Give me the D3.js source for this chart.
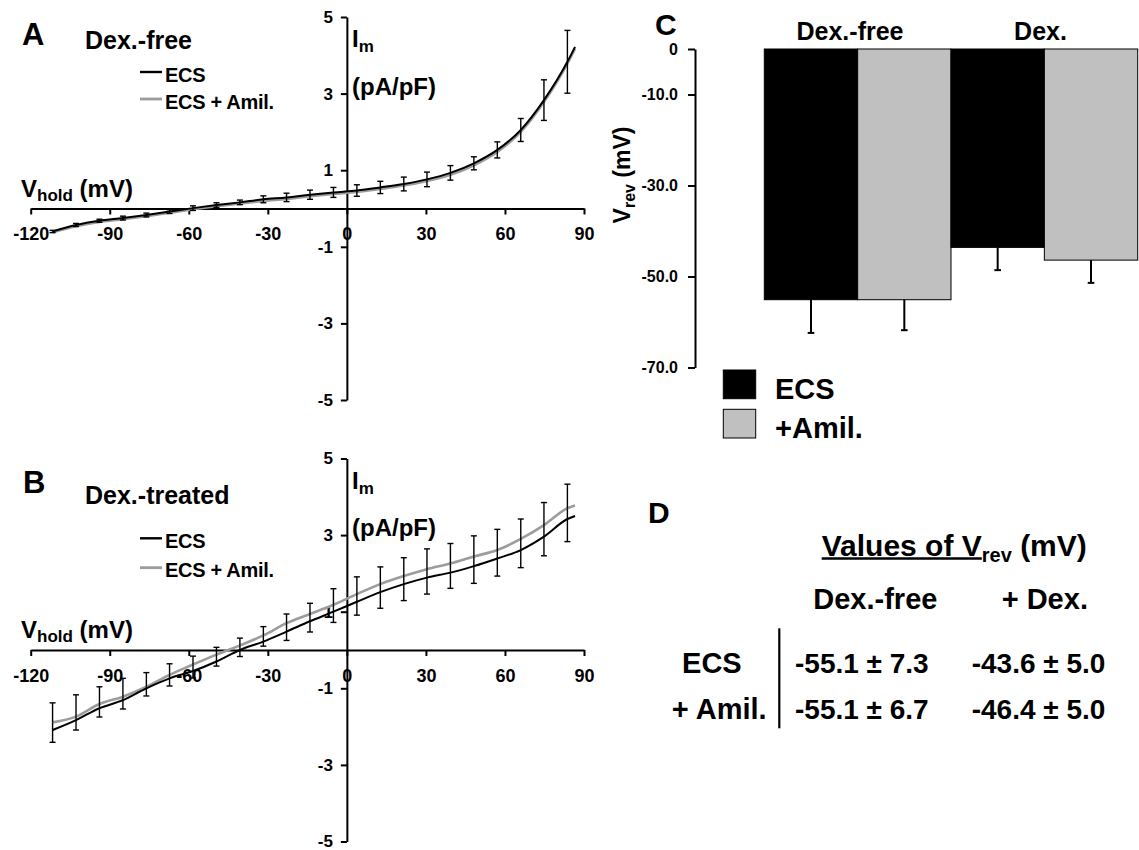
<!DOCTYPE html>
<html><head><meta charset="utf-8">
<script src="https://cdn.jsdelivr.net/npm/d3@7"></script>
<style>
body{margin:0;background:#fff}
svg{display:block}
text{font-family:"Liberation Sans",Arial,Helvetica,sans-serif;font-weight:bold;fill:#000}
</style>
</head><body>
<svg id="chart" width="1139" height="850"></svg>
<script>
// ---------- data ----------
const volts = [-111.7, -102.8, -93.9, -85.0, -76.1, -67.3, -58.4, -49.5, -40.6, -31.7, -22.9, -14.0, -5.1, 3.8, 12.7, 21.6, 30.4, 39.3, 48.2, 57.1, 66.0, 74.8, 83.7, 86.6];

// Panel A (Dex.-free)
const freeECS  = [-0.60, -0.43, -0.32, -0.25, -0.17, -0.08, 0.01, 0.09, 0.16, 0.24, 0.29, 0.36, 0.42, 0.47, 0.55, 0.64, 0.76, 0.93, 1.18, 1.53, 2.05, 2.83, 3.83, 4.22];
const freeAmil = [-0.62, -0.46, -0.35, -0.28, -0.20, -0.11, -0.02, 0.06, 0.13, 0.20, 0.25, 0.32, 0.38, 0.43, 0.51, 0.60, 0.72, 0.88, 1.13, 1.48, 2.00, 2.78, 3.78, 4.17];
const freeErr  = [0.03, 0.04, 0.04, 0.05, 0.05, 0.05, 0.06, 0.06, 0.06, 0.09, 0.11, 0.12, 0.13, 0.15, 0.16, 0.18, 0.19, 0.19, 0.17, 0.21, 0.30, 0.53, 0.82, null];

// Panel B (Dex.-treated)
const dexECS   = [-2.09, -1.83, -1.52, -1.31, -1.00, -0.74, -0.55, -0.30, 0.00, 0.22, 0.48, 0.75, 1.00, 1.26, 1.51, 1.72, 1.89, 2.02, 2.19, 2.39, 2.61, 2.96, 3.42, 3.50];
const dexAmil  = [-1.89, -1.74, -1.41, -1.22, -0.96, -0.65, -0.38, -0.12, 0.12, 0.38, 0.70, 0.94, 1.18, 1.46, 1.72, 1.93, 2.11, 2.26, 2.44, 2.61, 2.90, 3.26, 3.70, 3.77];
const dexECSErr  = [0.32, 0.26, 0.23, 0.23, 0.20, 0.20, 0.18, 0.12, 0.17, 0.12, 0.23, 0.28, 0.28, 0.35, 0.42, 0.43, 0.43, 0.41, 0.45, 0.46, 0.46, 0.50, 0.59, null];
const dexAmilErr = [0.51, 0.57, 0.45, 0.48, 0.37, 0.29, 0.22, 0.19, 0.19, 0.23, 0.24, 0.28, 0.42, 0.45, 0.45, 0.48, 0.53, 0.52, 0.54, 0.54, 0.52, 0.59, 0.63, null];

const xTicks = [-120, -90, -60, -30, 0, 30, 60, 90];
const xTickLabels = ["-120", "-90", "-60", "-30", "0", "30", "60", "90"];
const yTicks = [5, 3, 1, -1, -3, -5];
const yTickLabels = ["5", "3", "1", "-1", "-3", "-5"];

// Panel C / D (Vrev)
const groups = ["Dex.-free", "Dex."];
const seriesNames = ["ECS", "+Amil."];
const vrevMean = [[-55.1, -55.1], [-43.6, -46.4]];
const vrevErr  = [[7.3, 6.7], [5.0, 5.0]];
const cTicks = [0, -10, -30, -50, -70];
const cTickLabels = ["0", "-10.0", "-30.0", "-50.0", "-70.0"];
const tableCols = ["Dex.-free", "+ Dex."];
const tableRows = ["ECS", "+ Amil."];
const tableCells = [["-55.1 \u00b1 7.3", "-43.6 \u00b1 5.0"], ["-55.1 \u00b1 6.7", "-46.4 \u00b1 5.0"]];

// ---------- drawing ----------
const svg = d3.select("#chart");
const BLACK = "#000", GRAY = "#9c9c9c", BARGRAY = "#c0c0c0";

function styleAxis(g, fs) {
  g.attr("font-size", fs).attr("font-family", null);
  g.selectAll(".domain").attr("stroke", BLACK).attr("stroke-width", 2);
  g.selectAll(".tick line").attr("stroke", BLACK).attr("stroke-width", 2);
}

function ivPanel(cfg) {
  const x = d3.scaleLinear().domain([-120, 90]).range([30.7, 584]);
  const y = d3.scaleLinear().domain([-5, 5]).range([cfg.y0 + 191.5, cfg.y0 - 191.5]);
  const g = svg.append("g");

  const gx = g.append("g").attr("transform", `translate(0,${y(0)})`)
    .call(d3.axisBottom(x).tickValues(xTicks).tickFormat((d, i) => xTickLabels[i])
      .tickSize(6).tickSizeOuter(0).tickPadding(13.2));
  styleAxis(gx, 18);
  const gy = g.append("g").attr("transform", `translate(${x(0)},0)`)
    .call(d3.axisLeft(y).tickValues(yTicks).tickFormat((d, i) => yTickLabels[i])
      .tickSize(6).tickSizeOuter(0).tickPadding(8));
  styleAxis(gy, 17);

  const line = d3.line().x(d => x(d[0])).y(d => y(d[1])).curve(d3.curveMonotoneX);
  const ptsE = volts.map((v, i) => [v, cfg.ecs[i]]);
  const ptsA = volts.map((v, i) => [v, cfg.amil[i]]);
  g.append("path").attr("d", line(ptsA)).attr("fill", "none").attr("stroke", GRAY).attr("stroke-width", 2.6);
  g.append("path").attr("d", line(ptsE)).attr("fill", "none").attr("stroke", BLACK).attr("stroke-width", 2);

  const eb = g.append("g").attr("stroke", BLACK).attr("stroke-width", 1.4);
  function bar(v, y1, y2) {
    eb.append("line").attr("x1", x(v)).attr("x2", x(v)).attr("y1", y(y1)).attr("y2", y(y2));
    eb.append("line").attr("x1", x(v) - 3).attr("x2", x(v) + 3).attr("y1", y(y2)).attr("y2", y(y2));
  }
  volts.forEach((v, i) => {
    if (cfg.errBoth && cfg.errBoth[i] != null) {
      bar(v, cfg.ecs[i], cfg.ecs[i] + cfg.errBoth[i]);
      bar(v, cfg.ecs[i], cfg.ecs[i] - cfg.errBoth[i]);
    }
    if (cfg.errDown && cfg.errDown[i] != null) {
      bar(v, cfg.ecs[i], cfg.ecs[i] - cfg.errDown[i]);
      bar(v, cfg.amil[i], cfg.amil[i] + cfg.errUp[i]);
      eb.append("line").attr("x1", x(v)).attr("x2", x(v)).attr("y1", y(cfg.ecs[i])).attr("y2", y(cfg.amil[i]));
    }
  });

  // panel letter and title
  g.append("text").attr("x", cfg.letterX).attr("y", cfg.letterY).attr("font-size", 31).text(cfg.letter);
  g.append("text").attr("x", 85).attr("y", cfg.titleY).attr("font-size", 25).text(cfg.title);
  // legend
  [[cfg.legY1, BLACK, "ECS", 2.4], [cfg.legY2, GRAY, "ECS + Amil.", 2.8]].forEach(([ly, col, lab, w]) => {
    g.append("line").attr("x1", 140).attr("x2", 162).attr("y1", ly).attr("y2", ly).attr("stroke", col).attr("stroke-width", w);
    g.append("text").attr("x", 165).attr("y", ly + 9.5).attr("font-size", 20).attr("letter-spacing", -0.3).text(lab);
  });
  // V_hold label
  const vt = g.append("text").attr("x", 21).attr("y", cfg.y0 - 12).attr("font-size", 24);
  vt.append("tspan").text("V");
  vt.append("tspan").attr("font-size", 17).attr("dy", 4).text("hold");
  vt.append("tspan").attr("dy", -4).text(" (mV)");
  // I_m label
  const it = g.append("text").attr("x", 352).attr("y", cfg.y0 - 161.5).attr("font-size", 24);
  it.append("tspan").text("I");
  it.append("tspan").attr("font-size", 17).attr("dy", 5).text("m");
  g.append("text").attr("x", 352).attr("y", cfg.y0 - 114).attr("font-size", 24).text("(pA/pF)");
}

ivPanel({ y0: 208.5, ecs: freeECS, amil: freeAmil, errBoth: freeErr,
  letter: "A", letterX: 22, letterY: 45, title: "Dex.-free", titleY: 48.5, legY1: 72, legY2: 99 });
ivPanel({ y0: 650, ecs: dexECS, amil: dexAmil, errDown: dexECSErr, errUp: dexAmilErr,
  letter: "B", letterX: 23, letterY: 493, title: "Dex.-treated", titleY: 503.5, legY1: 538.3, legY2: 567.7 });

// ---------- Panel C ----------
(function () {
  const g = svg.append("g");
  const yC = d3.scaleLinear().domain([-70, 0]).range([367.5, 49]);
  const xG = d3.scaleBand().domain(groups).range([764.3, 1137.7]).paddingInner(0).paddingOuter(0);
  const xS = d3.scaleBand().domain(seriesNames).range([0, xG.bandwidth()]).padding(0);
  const fills = [BLACK, BARGRAY];

  const gy = g.append("g").attr("transform", "translate(695,0)")
    .call(d3.axisLeft(yC).tickValues(cTicks).tickFormat((d, i) => cTickLabels[i])
      .tickSize(7).tickSizeOuter(0).tickPadding(10));
  styleAxis(gy, 16);

  groups.forEach((grp, gi) => {
    seriesNames.forEach((s, si) => {
      const v = vrevMean[gi][si], e = vrevErr[gi][si];
      const bx = xG(grp) + xS(s), bw = xS.bandwidth();
      g.append("rect").attr("x", bx).attr("y", yC(0)).attr("width", bw).attr("height", yC(v) - yC(0))
        .attr("fill", fills[si]).attr("stroke", BLACK).attr("stroke-width", 1);
      const cx = bx + bw / 2;
      g.append("line").attr("x1", cx).attr("x2", cx).attr("y1", yC(v)).attr("y2", yC(v - e)).attr("stroke", BLACK).attr("stroke-width", 2);
      g.append("line").attr("x1", cx - 3.3).attr("x2", cx + 3.3).attr("y1", yC(v - e)).attr("y2", yC(v - e)).attr("stroke", BLACK).attr("stroke-width", 2);
    });
  });
  // group labels
  g.append("text").attr("x", 850).attr("y", 40).attr("text-anchor", "middle").attr("font-size", 25).text(groups[0]);
  g.append("text").attr("x", 1040.5).attr("y", 40).attr("text-anchor", "middle").attr("font-size", 25).text(groups[1]);
  // letter
  g.append("text").attr("x", 655).attr("y", 35).attr("font-size", 30).text("C");
  // y label
  const yl = g.append("text").attr("transform", "translate(630,175) rotate(-90)").attr("text-anchor", "middle").attr("font-size", 23);
  yl.append("tspan").text("V");
  yl.append("tspan").attr("font-size", 16).attr("dy", 5).text("rev");
  yl.append("tspan").attr("dy", -5).text(" (mV)");
  // legend
  seriesNames.forEach((s, si) => {
    const ly = si === 0 ? 370 : 409.3;
    g.append("rect").attr("x", 723.3).attr("y", ly).attr("width", 32.4).attr("height", 28.7)
      .attr("fill", fills[si]).attr("stroke", BLACK).attr("stroke-width", 1);
    g.append("text").attr("x", 775).attr("y", ly + 28.5).attr("font-size", 29).text(s);
  });
})();

// ---------- Panel D ----------
(function () {
  const g = svg.append("g");
  g.append("text").attr("x", 648).attr("y", 523).attr("font-size", 30).text("D");
  const t1 = g.append("text").attr("x", 821.7).attr("y", 556).attr("font-size", 30).text("Values of V");
  const w1 = t1.node().getComputedTextLength();
  g.append("line").attr("x1", 821.7).attr("x2", 821.7 + w1).attr("y1", 558.5).attr("y2", 558.5).attr("stroke", BLACK).attr("stroke-width", 2.4);
  const t2 = g.append("text").attr("x", 821.7 + w1).attr("y", 556).attr("font-size", 30);
  t2.append("tspan").attr("font-size", 20).attr("dy", 6).text("rev");
  t2.append("tspan").attr("dy", -6).text(" (mV)");

  g.append("text").attr("x", 813.3).attr("y", 609.3).attr("font-size", 29).text(tableCols[0]);
  g.append("text").attr("x", 1001.7).attr("y", 609.3).attr("font-size", 29).text(tableCols[1]);
  g.append("text").attr("x", 741.7).attr("y", 672.7).attr("text-anchor", "end").attr("font-size", 29).text(tableRows[0]);
  g.append("text").attr("x", 766.7).attr("y", 719.3).attr("text-anchor", "end").attr("font-size", 29).text(tableRows[1]);
  g.append("line").attr("x1", 779.3).attr("x2", 779.3).attr("y1", 628.3).attr("y2", 728.3).attr("stroke", BLACK).attr("stroke-width", 2.2);
  const rowsY = [672.7, 719.3], colsX = [795, 971.7];
  tableCells.forEach((row, ri) => row.forEach((c, ci) => {
    g.append("text").attr("x", colsX[ci]).attr("y", rowsY[ri]).attr("font-size", 28).text(c);
  }));
})();
</script>
</body></html>
